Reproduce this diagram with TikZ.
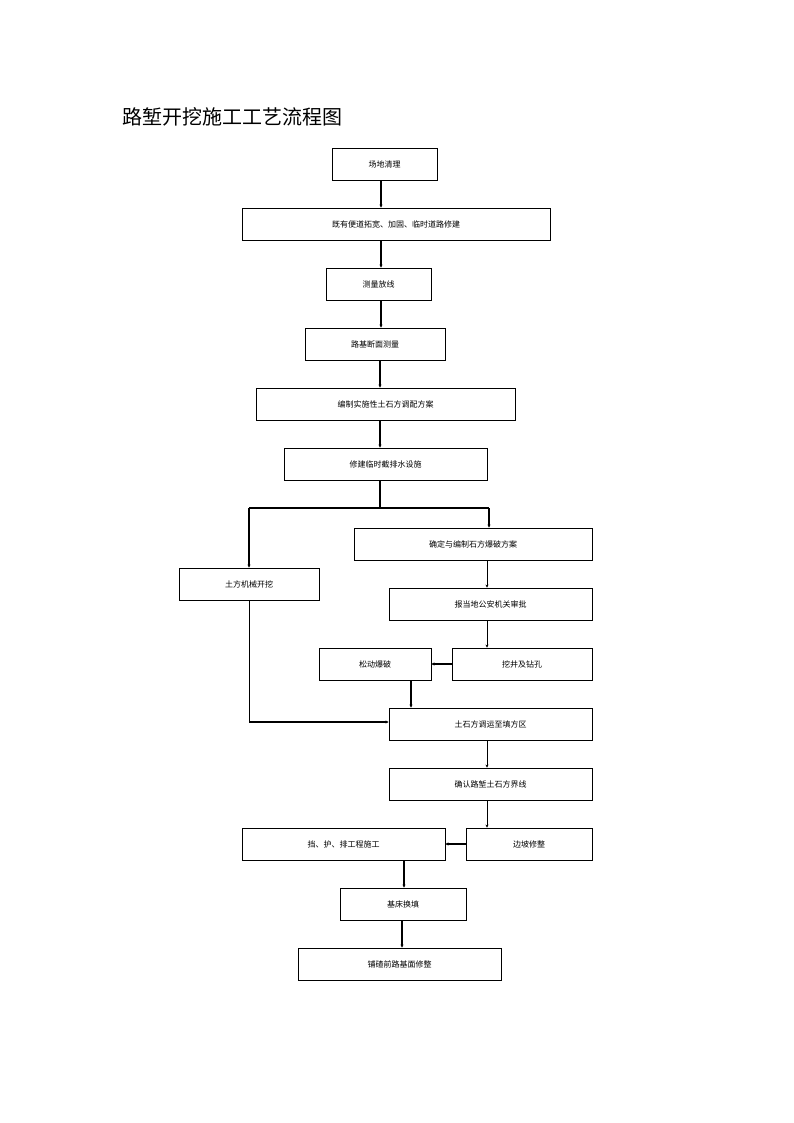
\documentclass[tikz,border=0pt]{standalone}
\usepackage{fontspec}
\setmainfont{Noto Sans CJK SC}
\usetikzlibrary{arrows.meta}
\begin{document}
\begin{tikzpicture}[x=1pt,y=-1pt,
  box/.style={draw=black, line width=0.9pt, inner sep=0pt, font=\fontsize{8}{9}\selectfont},
  flow/.style={draw=black, line width=1.4pt, -{Stealth[length=3pt,width=3pt]}},
  thinflow/.style={draw=black, line width=0.8pt, -{Stealth[length=3pt,width=3pt]}},
  seg/.style={draw=black, line width=1.4pt}]
\useasboundingbox (0,0) rectangle (794,1123);
\node[anchor=west, font=\fontsize{20}{23}\selectfont] (title) at (119,117) {路堑开挖施工工艺流程图};
\node[box, minimum width=105, minimum height=32] (n1) at (384.5,164) {场地清理};
\node[box, minimum width=308, minimum height=32] (n2) at (396,224) {既有便道拓宽、加固、临时道路修建};
\node[box, minimum width=105, minimum height=32] (n3) at (378.5,284) {测量放线};
\node[box, minimum width=140, minimum height=32] (n4) at (375,344) {路基断面测量};
\node[box, minimum width=259, minimum height=32] (n5) at (385.5,404) {编制实施性土石方调配方案};
\node[box, minimum width=203, minimum height=32] (n6) at (385.5,464) {修建临时截排水设施};
\node[box, minimum width=238, minimum height=32] (n7) at (473,544) {确定与编制石方爆破方案};
\node[box, minimum width=140, minimum height=32] (n8) at (249,584) {土方机械开挖};
\node[box, minimum width=203, minimum height=32] (n9) at (490.5,604) {报当地公安机关审批};
\node[box, minimum width=112, minimum height=32] (n10) at (375,664) {松动爆破};
\node[box, minimum width=140, minimum height=32] (n11) at (522,664) {挖井及钻孔};
\node[box, minimum width=203, minimum height=32] (n12) at (490.5,724) {土石方调运至填方区};
\node[box, minimum width=203, minimum height=32] (n13) at (490.5,784) {确认路堑土石方界线};
\node[box, minimum width=203, minimum height=32] (n14) at (343.5,844) {挡、护、排工程施工};
\node[box, minimum width=126, minimum height=32] (n15) at (529,844) {边坡修整};
\node[box, minimum width=126, minimum height=32] (n16) at (403,904) {基床换填};
\node[box, minimum width=203, minimum height=32] (n17) at (399.5,964) {铺碴前路基面修整};
% guide coordinates
\coordinate (x381) at (381,0);
\coordinate (x380) at (380,0);
\coordinate (x487) at (487,0);
\coordinate (x411) at (411,0);
\coordinate (x404) at (404,0);
\coordinate (x402) at (402,0);
\coordinate (jn) at (380,508);
\coordinate (jl) at (249,508);
\coordinate (jr) at (489,508);
\coordinate (bl) at (249,722);
% connectors
\draw[flow] (n1.south -| x381) -- (n2.north -| x381);
\draw[flow] (n2.south -| x381) -- (n3.north -| x381);
\draw[flow] (n3.south -| x381) -- (n4.north -| x381);
\draw[flow] (n4.south -| x380) -- (n5.north -| x380);
\draw[flow] (n5.south -| x380) -- (n6.north -| x380);
\draw[seg] (n6.south -| x380) -- (jn);
\draw[seg] (jl) -- (jr);
\draw[flow] (jl) -- (n8.north);
\draw[flow] (jr) -- (n7.north -| jr);
\draw[thinflow] (n7.south -| x487) -- (n9.north -| x487);
\draw[thinflow] (n9.south -| x487) -- (n11.north -| x487);
\draw[flow] (n11.west) -- (n10.east);
\draw[flow] (n10.south -| x411) -- (n12.north -| x411);
\draw[line width=0.8pt] (n8.south) -- (bl);
\draw[flow] (bl) -- (bl -| n12.west);
\draw[thinflow] (n12.south -| x487) -- (n13.north -| x487);
\draw[thinflow] (n13.south -| x487) -- (n15.north -| x487);
\draw[flow] (n15.west) -- (n14.east);
\draw[flow] (n14.south -| x404) -- (n16.north -| x404);
\draw[flow] (n16.south -| x402) -- (n17.north -| x402);
\end{tikzpicture}
\end{document}
